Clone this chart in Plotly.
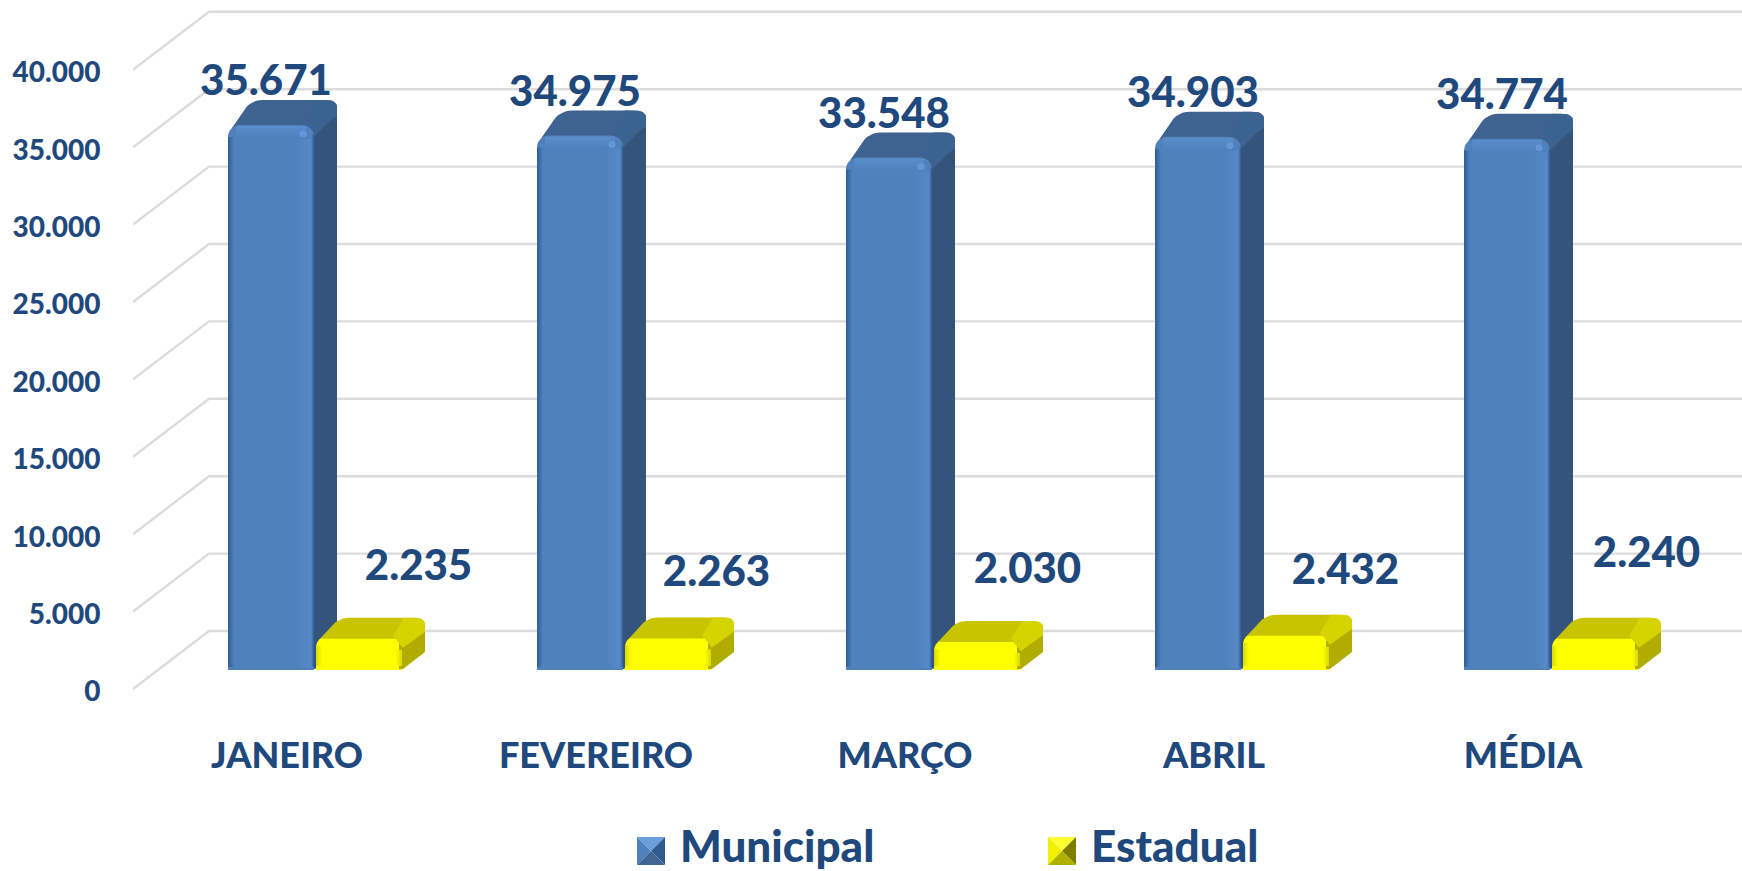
import plotly.graph_objects as go

categories = ["JANEIRO", "FEVEREIRO", "MARÇO", "ABRIL", "MÉDIA"]
municipal = [35671, 34975, 33548, 34903, 34774]
estadual = [2235, 2263, 2030, 2432, 2240]
y_ticks = [0, 5000, 10000, 15000, 20000, 25000, 30000, 35000, 40000]
legend_names = ["Municipal", "Estadual"]

W, H = 1742, 871
NAVY = "#1f497d"
LATO = "Lato"
HEAVY = 900

# axis calibration (pixels per value)
GRID_SCALE = 77.4 / 5000
GRID_ZERO = 691.5       # tick-label axis sits slightly lower than its gridlines
GRID_SHIFT = 2.5
BAR_SCALE = 0.01528
BAR_ZERO = 670
PERIOD = 309
BAR_W = 86
DX = 23


def grid_v(py):
    return (GRID_ZERO - py) / GRID_SCALE


def bar_v(py):
    return (BAR_ZERO - py) / BAR_SCALE


def rounded(points, r):
    """Rounded polygon in pixel space; r is a radius per vertex."""
    out = []
    n = len(points)
    for i, p in enumerate(points):
        a, b = points[i - 1], points[(i + 1) % n]
        rad = r[i]
        if rad == 0:
            out.append(p)
            continue
        def toward(q):
            dx, dy = q[0] - p[0], q[1] - p[1]
            d = (dx * dx + dy * dy) ** 0.5
            t = min(rad, d / 2) / d
            return (p[0] + dx * t, p[1] + dy * t)
        s, e = toward(a), toward(b)
        for k in range(7):
            t = k / 6
            out.append(((1 - t) ** 2 * s[0] + 2 * t * (1 - t) * p[0] + t * t * e[0],
                        (1 - t) ** 2 * s[1] + 2 * t * (1 - t) * p[1] + t * t * e[1]))
    out.append(out[0])
    return out


def face(points, color, yaxis, radii=None, grad=None):
    pts = rounded(points, radii or [0] * len(points))
    kw = dict(fillcolor=color)
    if grad:
        kw = dict(fillgradient=dict(type=grad[0], colorscale=[[0, grad[1]], [1, grad[2]]]))
    return go.Scatter(x=[p[0] for p in pts], y=[bar_v(p[1]) for p in pts], mode="lines",
                      line=dict(width=0), fill="toself", yaxis=yaxis, xaxis="x",
                      hoverinfo="skip", showlegend=False, **kw)


fig = go.Figure()

# floor + wall gridlines
gx, gy = [], []
shift = GRID_SHIFT / GRID_SCALE
back = 58 / GRID_SCALE
for t in y_ticks:
    gx += [133, 209, W, None]
    gy += [t + shift, t + shift + back, t + shift + back, None]
fig.add_trace(go.Scatter(x=gx, y=gy, mode="lines", line=dict(color="#dcdcdc", width=2.4),
                         hoverinfo="skip", showlegend=False))


def extrusion(x0, v, dy, top_c, side_c, corner_c, yaxis, r, low):
    x1 = x0 + BAR_W
    yt = BAR_ZERO - v * BAR_SCALE
    yb = BAR_ZERO
    bx = x1 + DX
    by = yt - dy
    return [
        face([(x1 - 3, yt + 2), (bx - 3, by + 2), (bx, by + 6),
              (bx, yb - dy), (x1 + 1, yb - 1), (x1 - 3, yb - 1)], side_c, yaxis),
        face([(x0 + 4, yt + 3), (x0 + DX, by), (bx, by), (bx, by + 14),
              (x1, yt + 12), (x1 - 4, yt + 3)], top_c, yaxis, [0, r, r, 0, 0, 0]),
        face([(x1 + 2, by), (bx, by), (bx, by + r + 4),
              (x1 + 1, yt + low), (x1 - 9, yt)], corner_c, yaxis, [0, r, 0, 0, 0]),
    ]


# blue depth faces sit beneath everything on the front layer
for i, v in enumerate(municipal):
    for tr in extrusion(228 + PERIOD * i, v, 25, "#3f6390", "#34547c", "#3b6392", "y2", 12, 6):
        fig.add_trace(tr)

# front faces
blue_x = [228 + PERIOD * i + BAR_W / 2 for i in range(5)]
yellow_x = [316 + PERIOD * i + BAR_W / 2 for i in range(5)]
fig.add_trace(go.Bar(x=blue_x, y=municipal, width=BAR_W, yaxis="y3", name=legend_names[0],
                     marker=dict(color="#4f81bd", line=dict(width=0), cornerradius=12), showlegend=False))
fig.add_trace(go.Bar(x=yellow_x, y=estadual, width=BAR_W, yaxis="y3", name=legend_names[1],
                     marker=dict(color="#ffff00", line=dict(width=0), cornerradius=12), showlegend=False))

# yellow depth faces
for i, v in enumerate(estadual):
    for tr in extrusion(316 + PERIOD * i, v, 18, "#c8c400", "#b0ad00", "#d6d400", "y3", 10, 12):
        fig.add_trace(tr)

# bevels on the front faces
for i, v in enumerate(municipal):
    x0 = 228 + PERIOD * i
    x1 = x0 + BAR_W
    yt = BAR_ZERO - v * BAR_SCALE
    fig.add_trace(face([(x0, yt + 12), (x0 + 6, yt + 12), (x0 + 6, BAR_ZERO - 3), (x0, BAR_ZERO - 3)],
                       "#000", "y3", grad=("horizontal", "#2f5c94", "#4f81bd")))
    fig.add_trace(face([(x1 - 17, yt + 14), (x1 - 3, yt + 14), (x1 - 3, BAR_ZERO - 2), (x1 - 17, BAR_ZERO - 2)],
                       "#000", "y3", grad=("horizontal", "#4f81bd", "#5689c8")))
    fig.add_trace(face([(x1 - 3, yt + 10), (x1, yt + 10), (x1, BAR_ZERO - 3), (x1 - 3, BAR_ZERO - 3)],
                       "#000", "y3", grad=("horizontal", "#5689c8", "#2f5c94")))
    fig.add_trace(face([(x0 + 8, yt + 1), (x1 - 8, yt + 1), (x1 - 8, yt + 13), (x0 + 8, yt + 13)],
                       "#000", "y3", grad=("vertical", "#4f81bd", "#5a8dcb")))
    fig.add_trace(go.Scatter(x=[x1 - 11], y=[v - 9 / BAR_SCALE], mode="markers", yaxis="y3",
                             marker=dict(size=7, color="#6398d8", line=dict(width=0)),
                             hoverinfo="skip", showlegend=False))

for i, v in enumerate(estadual):
    x0 = 316 + PERIOD * i
    x1 = x0 + BAR_W
    yt = BAR_ZERO - v * BAR_SCALE
    fig.add_trace(face([(x0, yt + 10), (x0 + 6, yt + 10), (x0 + 6, BAR_ZERO - 4), (x0, BAR_ZERO - 4)],
                       "#000", "y3", grad=("horizontal", "#d8d800", "#ffff00")))
    fig.add_trace(face([(x1 - 6, yt + 14), (x1, yt + 14), (x1, BAR_ZERO - 4), (x1 - 6, BAR_ZERO - 4)],
                       "#000", "y3", grad=("horizontal", "#ffff00", "#d8d800")))

# value labels
fmt = lambda v: f"{v:,}".replace(",", ".")
fig.add_trace(go.Scatter(x=[266 + PERIOD * i for i in range(5)],
                         y=[v + 40 / BAR_SCALE for v in municipal],
                         text=[fmt(v) for v in municipal], mode="text", yaxis="y3",
                         textfont=dict(family=LATO, size=42, color=NAVY, weight=HEAVY),
                         textposition="middle center", hoverinfo="skip", showlegend=False))
yellow_dx = [59.5, 48.5, 50.5, 59.5, 51.5]
yellow_lift = [66, 60, 66, 59, 79]
fig.add_trace(go.Scatter(x=[yellow_x[i] + yellow_dx[i] for i in range(5)],
                         y=[v + yellow_lift[i] / BAR_SCALE for i, v in enumerate(estadual)],
                         text=[fmt(v) for v in estadual], mode="text", yaxis="y3",
                         textfont=dict(family=LATO, size=42, color=NAVY, weight=HEAVY),
                         textposition="middle center", hoverinfo="skip", showlegend=False))


# legend swatches
def swatch(x0, c_top, c_left, c_right, c_bot):
    y0, s = 837, 28
    x1, y1, cx, cy = x0 + s, y0 + s, x0 + s / 2, y0 + s / 2
    for pts, c in [([(x0, y0), (x1, y0), (cx, cy)], c_top),
                   ([(x0, y0), (x0, y1), (cx, cy)], c_left),
                   ([(x1, y0), (x1, y1), (cx, cy)], c_right),
                   ([(x0, y1), (x1, y1), (cx, cy)], c_bot)]:
        fig.add_trace(face(pts, c, "y3"))


swatch(637, "#6a9fde", "#4f81bd", "#2f5c8f", "#3f6694")
swatch(1048, "#ffff30", "#f0f000", "#7d7d00", "#b0b000")

fig.update_layout(
    width=W, height=H, margin=dict(l=133, r=0, t=0, b=0),
    paper_bgcolor="white", plot_bgcolor="white",
    separators=",.", barmode="overlay",
    showlegend=False,
    xaxis=dict(range=[133, W], anchor="free", position=1 - 700 / H, showgrid=False, zeroline=False,
               showline=False, tickmode="array",
               tickvals=[287 + PERIOD * i for i in range(5)], ticktext=categories,
               ticks="outside", ticklen=24, tickcolor="rgba(0,0,0,0)",
               tickfont=dict(family=LATO, size=36, color=NAVY, weight=HEAVY)),
    yaxis=dict(range=[grid_v(H), grid_v(0)], domain=[0, 1], showgrid=False, zeroline=False,
               showline=False, tickmode="array", tickvals=y_ticks, tickformat=",d",
               ticks="outside", ticklen=26, tickcolor="rgba(0,0,0,0)",
               tickfont=dict(family=LATO, size=28, color=NAVY, weight=HEAVY)),
    yaxis2=dict(range=[bar_v(H), bar_v(0)], overlaying="y", visible=False, anchor="x"),
    yaxis3=dict(range=[bar_v(H), bar_v(0)], overlaying="y", visible=False, anchor="x"),
)
for x, name in zip([678, 1089], legend_names):
    fig.add_annotation(x=x, y=1 - 845 / H, text=name, xref="x", yref="paper", xanchor="left",
                       yanchor="middle", showarrow=False,
                       font=dict(family=LATO, size=44, color=NAVY, weight=HEAVY))

fig.write_html("out.html", config=dict(displayModeBar=False),
               post_script="document.body.style.margin='0';")
